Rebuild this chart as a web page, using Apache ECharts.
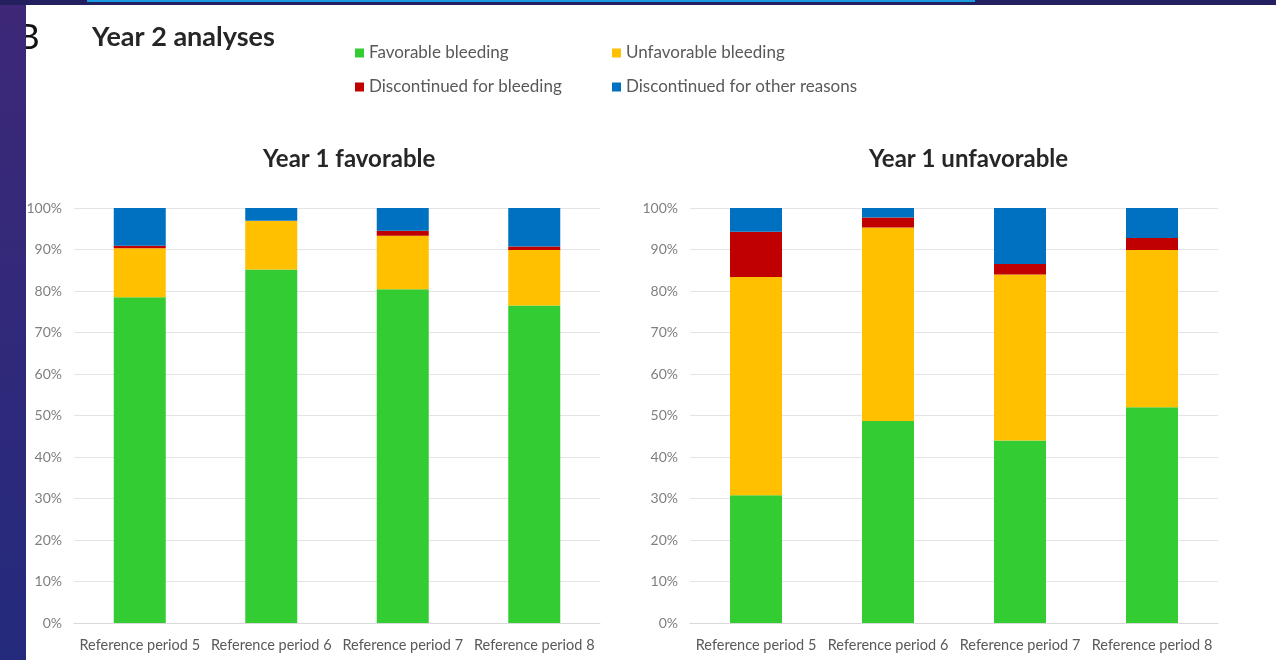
<!DOCTYPE html>
<html>
<head>
<meta charset="utf-8">
<script src="https://cdn.jsdelivr.net/npm/echarts@6/dist/echarts.min.js"></script>
<style>
html,body{margin:0;padding:0;background:#fff;}
#c{width:1276px;height:660px;}
</style>
</head>
<body>
<div id="c"></div>
<script>
const categories = ['Reference period 5', 'Reference period 6', 'Reference period 7', 'Reference period 8'];
const seriesNames = ['Favorable bleeding', 'Unfavorable bleeding', 'Discontinued for bleeding', 'Discontinued for other reasons'];
const colors = ['#33cc33', '#ffc000', '#c00000', '#0070c0'];
const yTicks = [0, 10, 20, 30, 40, 50, 60, 70, 80, 90, 100];

// Year 1 favorable panel (percent of patients)
const favGreen  = [78.5, 85.2, 80.4, 76.5];
const favYellow = [11.8, 11.7, 12.9, 13.4];
const favRed    = [0.6, 0.0, 1.2, 0.8];
const favBlue   = [9.1, 3.1, 5.5, 9.3];

// Year 1 unfavorable panel
const unfGreen  = [30.8, 48.7, 44.0, 52.0];
const unfYellow = [52.6, 46.6, 40.0, 37.9];
const unfRed    = [10.9, 2.4, 2.5, 2.9];
const unfBlue   = [5.7, 2.3, 13.5, 7.2];

const panels = [
  [favGreen, favYellow, favRed, favBlue],
  [unfGreen, unfYellow, unfRed, unfBlue]
];

const font = 'Lato, "Open Sans", sans-serif';
const chart = echarts.init(document.getElementById('c'), null, {renderer: 'canvas'});

const grids = [
  {left: 74, top: 208, width: 526, height: 415},
  {left: 690, top: 208, width: 528, height: 415}
];

const xAxes = grids.map((g, i) => ({
  type: 'category', gridIndex: i, data: categories,
  axisLine: {show: true, lineStyle: {color: '#d9d9d9', width: 1}},
  axisTick: {show: false},
  axisLabel: {color: '#595959', fontSize: 14.5, fontFamily: font, margin: 15, interval: 0}
}));
const yAxes = grids.map((g, i) => ({
  type: 'value', gridIndex: i, min: yTicks[0], max: yTicks[yTicks.length - 1], interval: 10,
  axisLine: {show: false}, axisTick: {show: false},
  splitLine: {lineStyle: {color: '#e4e4e4', width: 1}},
  axisLabel: {color: '#7f7f7f', fontSize: 14, fontFamily: font, margin: 12, formatter: v => v + '%'}
}));

const series = [];
panels.forEach((p, pi) => {
  p.forEach((vals, si) => {
    series.push({
      name: seriesNames[si], type: 'bar', stack: 'p' + pi,
      xAxisIndex: pi, yAxisIndex: pi, barWidth: 52,
      itemStyle: {color: colors[si]},
      emphasis: {disabled: true},
      data: vals
    });
  });
});

chart.setOption({
  animation: false,
  backgroundColor: '#ffffff',
  color: colors,
  title: [
    {text: 'Year 2 analyses', left: 87, top: 19, textStyle: {fontFamily: font, fontSize: 27, fontWeight: 'bold', color: '#262626'}},
    {text: 'Year 1 favorable', left: 258, top: 142, textStyle: {fontFamily: font, fontSize: 24, fontWeight: 'bold', color: '#262626'}},
    {text: 'Year 1 unfavorable', left: 864, top: 142, textStyle: {fontFamily: font, fontSize: 24, fontWeight: 'bold', color: '#262626'}}
  ],
  legend: {
    data: seriesNames,
    left: 350, top: 36, width: 520,
    orient: 'horizontal',
    icon: 'rect', itemWidth: 9, itemHeight: 9, itemGap: 10,
    textStyle: {fontFamily: font, fontSize: 17, color: '#595959', width: 233, lineHeight: 24, padding: [0, 0, 0, 0]},
    selectedMode: false
  },
  grid: grids,
  xAxis: xAxes,
  yAxis: yAxes,
  series: series,
  graphic: [
    {type: 'text', left: 17, top: 20, z: 1, style: {text: 'B', fontSize: 35, fontFamily: font, fill: '#111'}},
    {type: 'rect', left: 0, top: 0, z: 10, shape: {width: 26, height: 660},
      style: {fill: new echarts.graphic.LinearGradient(0, 0, 0, 1, [{offset: 0, color: '#3e2878'}, {offset: 1, color: '#242a7c'}])}},
    {type: 'rect', left: 0, top: 0, z: 10, shape: {width: 1276, height: 5}, style: {fill: '#241f5e'}},
    {type: 'rect', left: 87, top: 0, z: 11, shape: {width: 888, height: 2}, style: {fill: '#1a9be0'}}
  ]
});
</script>
</body>
</html>
